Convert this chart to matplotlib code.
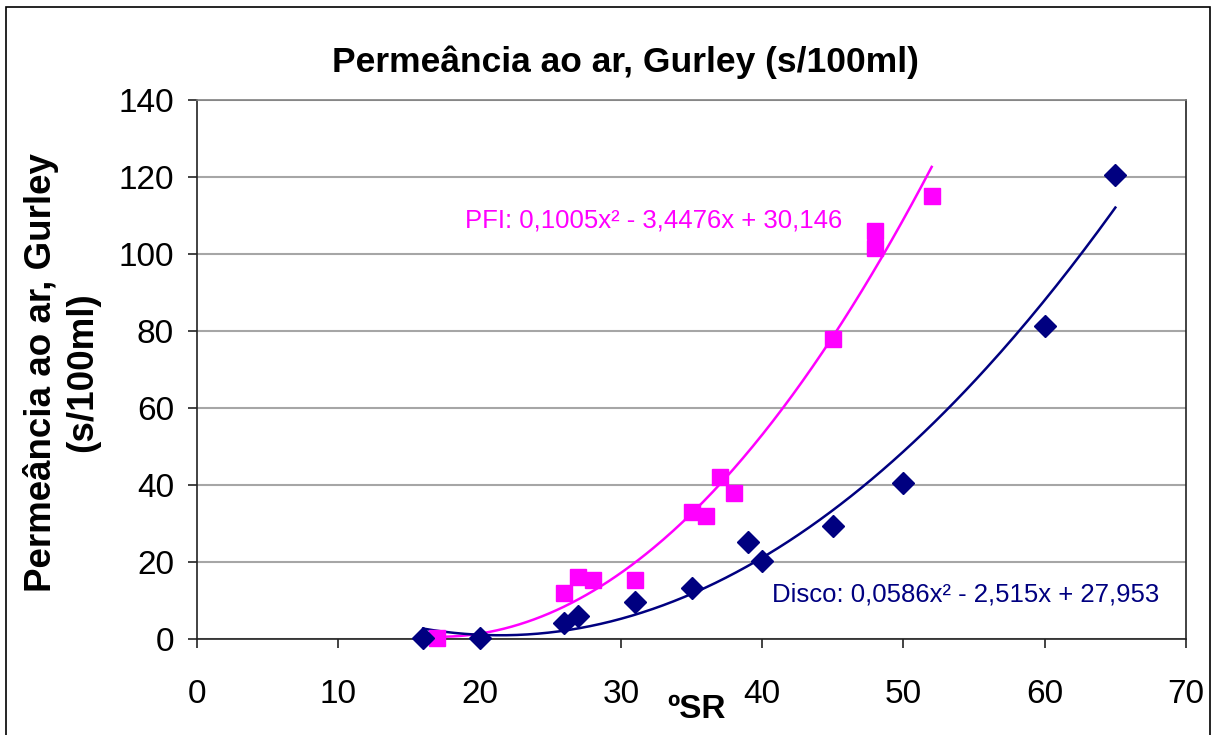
import matplotlib.pyplot as plt
import numpy as np
from matplotlib.patches import Rectangle

# ────────────────────────────────────────
#   Data
# ────────────────────────────────────────
pfi_sr = [17, 26, 27, 28, 31, 35, 36, 37, 38, 45, 48, 48, 52]
pfi_gurley = [0.3, 12, 16, 15.3, 15.3, 33, 32, 42, 38, 78, 106, 101.5, 115]

disco_sr = [16, 20, 26, 27, 31, 35, 39, 40, 45, 50, 60, 65]
disco_gurley = [0.3, 0.3, 4.2, 6, 9.6, 13.2, 25.2, 20.3, 29.4, 40.5, 81.3, 120.5]

# trendline coefficients as printed on the chart (x², x, 1)
pfi_coef = [0.1005, -3.4476, 30.146]
disco_coef = [0.0586, -2.515, 27.953]

x_ticks = [0, 10, 20, 30, 40, 50, 60, 70]
y_ticks = [0, 20, 40, 60, 80, 100, 120, 140]

PINK = "#ff00ff"
NAVY = "#000080"

plt.rcParams['font.family'] = ['Liberation Sans', 'DejaVu Sans']

fig = plt.figure(figsize=(12.16, 7.35), dpi=100)
ax = fig.add_axes([197 / 1216, 1 - 639 / 735, (1186 - 197) / 1216, (639 - 100) / 735])

# chart area border (bottom edge falls outside the picture)
fig.patches.append(Rectangle((6 / 1216, -0.05), 1204 / 1216, 1 - 7 / 735 + 0.05,
                             transform=fig.transFigure, fill=False,
                             edgecolor="black", linewidth=1.2))

ax.set_xlim(0, 70)
ax.set_ylim(0, 140)
ax.set_xticks(x_ticks)
ax.set_yticks(y_ticks)
ax.yaxis.grid(True, color="#a6a6a6", linewidth=1.5)
ax.set_axisbelow(True)

for side in ["left", "bottom", "right", "top"]:
    ax.spines[side].set_color("#222222")
    ax.spines[side].set_linewidth(1.2)
ax.spines["top"].set_color("#808080")

ax.tick_params(axis="both", direction="out", length=6.5, width=1.2,
               color="#222222", labelsize=24)
ax.tick_params(axis="y", pad=10)
ax.tick_params(axis="x", pad=22)

# trend lines
xs = np.linspace(min(pfi_sr), max(pfi_sr), 200)
ax.plot(xs, np.polyval(pfi_coef, xs), color=PINK, linewidth=1.8, zorder=2)
xs = np.linspace(min(disco_sr), max(disco_sr), 200)
ax.plot(xs, np.polyval(disco_coef, xs), color=NAVY, linewidth=1.8, zorder=2)

# points
ax.plot(pfi_sr, pfi_gurley, linestyle="none", marker="s", markersize=11.5,
        color=PINK, zorder=3, clip_on=False)
ax.plot(disco_sr, disco_gurley, linestyle="none", marker="D", markersize=11,
        color=NAVY, zorder=4, clip_on=False)

ax.text(0.271, 0.776, "PFI: 0,1005x² - 3,4476x + 30,146", transform=ax.transAxes,
        color=PINK, fontsize=18.5, ha="left", va="center")
ax.text(0.581, 0.083, "Disco: 0,0586x² - 2,515x + 27,953", transform=ax.transAxes,
        color=NAVY, fontsize=18.5, ha="left", va="center")

fig.text(625 / 1216, 1 - 62 / 735, "Permeância ao ar, Gurley (s/100ml)",
         fontsize=25.5, fontweight="bold", ha="center", va="center")
fig.text(41 / 1216, 1 - 372 / 735, "Permeância ao ar, Gurley", rotation=90,
         fontsize=26.5, fontweight="bold", ha="center", va="center")
fig.text(83 / 1216, 1 - 372 / 735, "(s/100ml)", rotation=90,
         fontsize=26.5, fontweight="bold", ha="center", va="center")
fig.text(697 / 1216, 1 - 710 / 735, "ºSR", fontsize=24, fontweight="bold",
         ha="center", va="center")

fig.savefig("out.png", dpi=100, facecolor="white")
